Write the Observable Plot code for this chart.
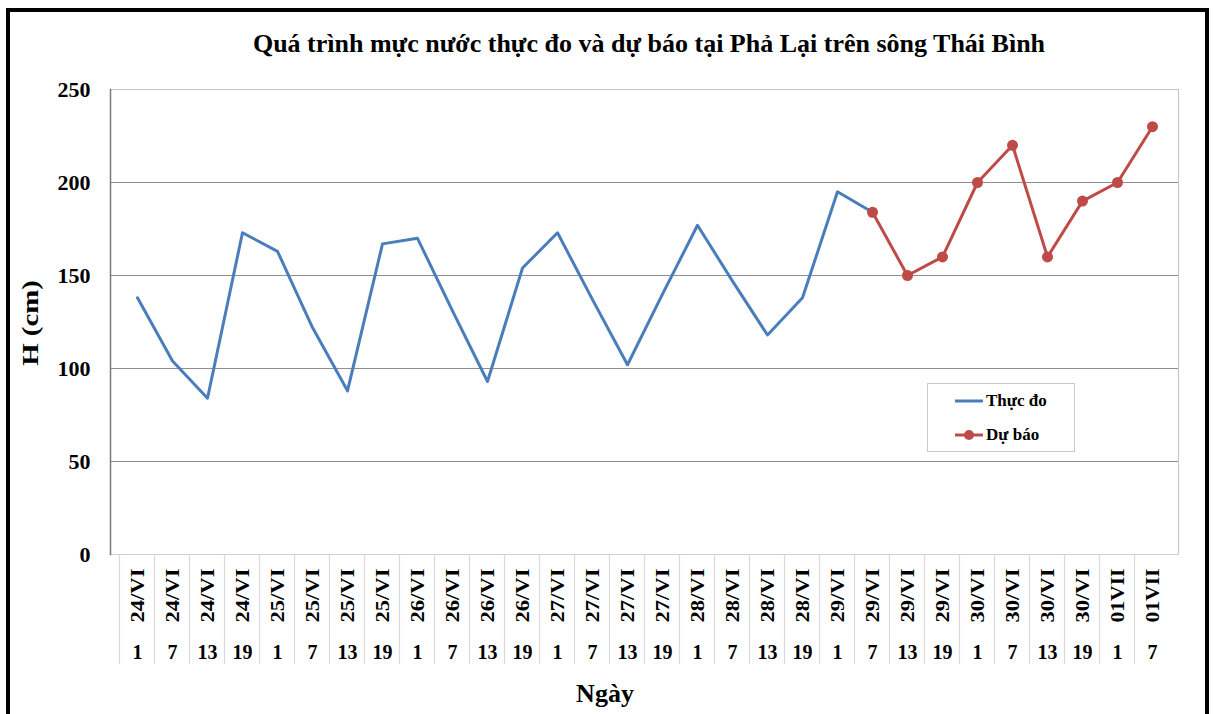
<!DOCTYPE html>
<html><head><meta charset="utf-8">
<script src="https://cdn.jsdelivr.net/npm/d3@7"></script>
<script src="https://cdn.jsdelivr.net/npm/@observablehq/plot@0.6"></script>
<style>
body{margin:0;background:#fff;}
#wrap{position:relative;width:1213px;height:714px;overflow:hidden;font-family:"Liberation Serif","Times New Roman",serif;font-weight:bold;color:#000;}
#border{position:absolute;left:6px;top:8px;width:1195px;height:730px;border:4px solid #000;box-sizing:content-box;}
#chart{position:absolute;left:0;top:0;}
.t{position:absolute;white-space:nowrap;}
#title{left:0;width:1298px;top:29px;text-align:center;font-size:26px;}
#ylab{left:30px;top:323px;font-size:24px;transform:translate(-50%,-50%) rotate(-90deg) scaleX(1.2);}
#xlab{left:605px;top:694px;font-size:26px;transform:translate(-50%,-50%);}
#legend{position:absolute;left:927px;top:383px;width:146px;height:67px;border:1px solid #c8c8c8;background:#fff;}
.li{position:absolute;left:27px;display:flex;align-items:center;font-size:17px;}
.li svg{margin-right:3px;}
</style></head>
<body><div id="wrap">
<div id="border"></div>
<div id="chart"></div>
<div class="t" id="title">Quá trình mực nước thực đo và dự báo tại Phả Lại trên sông Thái Bình</div>
<div class="t" id="ylab">H (cm)</div>
<div class="t" id="xlab">Ngày</div>
<div id="legend">
  <div class="li" style="top:7px"><svg width="28" height="12"><line x1="0" x2="28" y1="6" y2="6" stroke="#4A7EBB" stroke-width="3"/></svg>Thực đo</div>
  <div class="li" style="top:41px"><svg width="28" height="12"><line x1="0" x2="28" y1="6" y2="6" stroke="#BE4B48" stroke-width="3"/><circle cx="14" cy="6" r="5" fill="#BE4B48"/></svg>Dự báo</div>
</div>
</div>
<script>
const dateLabels = ["24/VI","24/VI","24/VI","24/VI","25/VI","25/VI","25/VI","25/VI","26/VI","26/VI","26/VI","26/VI","27/VI","27/VI","27/VI","27/VI","28/VI","28/VI","28/VI","28/VI","29/VI","29/VI","29/VI","29/VI","30/VI","30/VI","30/VI","30/VI","01VII","01VII"];
const hourLabels = ["1","7","13","19","1","7","13","19","1","7","13","19","1","7","13","19","1","7","13","19","1","7","13","19","1","7","13","19","1","7"];
const observed = [138,104,84,173,163,122,88,167,170,131,93,154,173,137,102,140,177,147,118,138,195,184];
const forecast = [184,150,160,200,220,160,190,200,230];
const yTicks = [0,50,100,150,200,250];

const idx = d3.range(dateLabels.length);
const obsData = observed.map((v,i)=>({i, v}));
const start = observed.length - 1;
const fcData = forecast.map((v,j)=>({i: start + j, v}));

const chart = Plot.plot({
  width: 1213, height: 714,
  marginLeft: 110, marginRight: 35, marginTop: 89, marginBottom: 160,
  x: {type: "point", domain: idx, padding: 0.5, axis: null, label: null},
  y: {domain: [0, 250], axis: null, label: null},
  style: {fontFamily: "Liberation Serif, Times New Roman, serif", fontWeight: "bold", background: "transparent", overflow: "visible", color: "#000"},
  marks: [
    Plot.gridY([50,100,150,200], {stroke: "#8f8f8f", strokeOpacity: 1, strokeWidth: 1}),
    Plot.frame({anchor: "top", stroke: "#c4c4c4"}),
    Plot.frame({anchor: "right", stroke: "#c4c4c4"}),
    Plot.frame({anchor: "bottom", stroke: "#d0d0d0"}),
    Plot.frame({anchor: "left", stroke: "#7a7a7a", strokeWidth: 1.5}),
    Plot.axisY({ticks: yTicks, label: null, tickSize: 0, tickPadding: 20, fontSize: 22, tickFormat: d => String(d), fill: "#000"}),
    Plot.axisX({ticks: idx, label: null, tickSize: 0, tickPadding: 0, tickFormat: i => dateLabels[i], rotate: -90, fontSize: 19, textAnchor: "middle", lineAnchor: "middle", dy: 41, fill: "#000", className: "datelab"}),
    Plot.axisX({ticks: idx, label: null, tickSize: 0, tickPadding: 0, tickFormat: i => hourLabels[i], fontSize: 20, lineAnchor: "middle", dy: 98, fill: "#000"}),
    Plot.line(obsData, {x: "i", y: "v", stroke: "#4A7EBB", strokeWidth: 3}),
    Plot.line(fcData, {x: "i", y: "v", stroke: "#BE4B48", strokeWidth: 3}),
    Plot.dot(fcData, {x: "i", y: "v", r: 5.5, fill: "#BE4B48"})
  ]
});
document.getElementById("chart").appendChild(chart);

// stretch the rotated date labels lengthwise, as in the reference
d3.select(chart).selectAll(".datelab text").each(function() {
  this.setAttribute("textLength", "54");
  this.setAttribute("lengthAdjust", "spacingAndGlyphs");
});

// table separators below the plot, from the library's own scales
const xs = chart.scale("x"), ys = chart.scale("y");
const step = xs.apply(1) - xs.apply(0);
const y0 = ys.apply(0);
d3.select(chart).insert("g", ":first-child")
  .selectAll("line").data(idx).join("line")
  .attr("x1", i => xs.apply(i) - step/2).attr("x2", i => xs.apply(i) - step/2)
  .attr("y1", y0).attr("y2", y0 + 110)
  .attr("stroke", "#dadada").attr("stroke-width", 1.2);
</script>
</body></html>
